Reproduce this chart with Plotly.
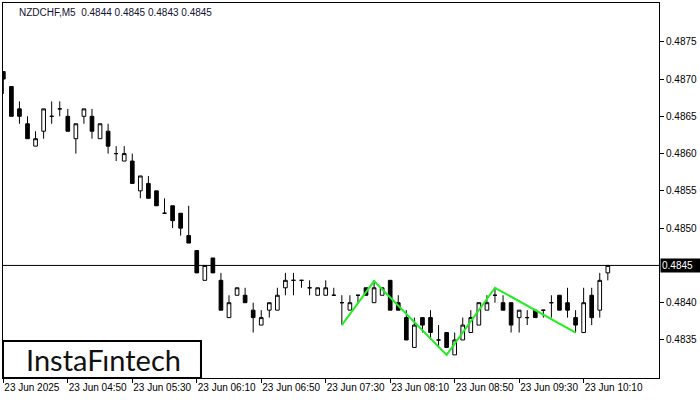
import plotly.graph_objects as go

# ---- data (bar index 0 = 23 Jun 2025 04:10, M5) ----
opens = [0.4871, 0.4869, 0.4866, 0.4864, 0.4861, 0.4863, 0.4865, 0.4866, 0.4865, 0.4862,
         0.4865, 0.4865, 0.4862, 0.4863, 0.4860, 0.4859, 0.4859, 0.4855, 0.4856, 0.4855,
         0.4852, 0.4853, 0.4852, 0.4849, 0.4847, 0.4843, 0.4846, 0.4843, 0.4838, 0.4841,
         0.4841, 0.4839, 0.4837, 0.4839, 0.4839, 0.4842, 0.4843, 0.4843, 0.4842, 0.4841,
         0.4841, 0.4841, 0.4840, 0.4839, 0.4841, 0.4842, 0.4840, 0.4841, 0.4843, 0.4840,
         0.4838, 0.4834, 0.4838, 0.4838, 0.4835, 0.4836, 0.4833, 0.4835, 0.4836, 0.4837,
         0.4839, 0.4841, 0.4840, 0.4840, 0.4838, 0.4838, 0.4839, 0.4839, 0.4840, 0.4841,
         0.4840, 0.4838, 0.4836, 0.4841, 0.4839, 0.4844]
highs = [0.4871, 0.4869, 0.4867, 0.4865, 0.4863, 0.4866, 0.4867, 0.4867, 0.4866, 0.4864,
         0.4866, 0.4866, 0.4864, 0.4864, 0.4861, 0.4861, 0.4860, 0.4857, 0.4857, 0.4855,
         0.4854, 0.4853, 0.4852, 0.4853, 0.4847, 0.4845, 0.4846, 0.4844, 0.4841, 0.4842,
         0.4842, 0.4840, 0.4839, 0.4840, 0.4842, 0.4844, 0.4844, 0.4843, 0.4843, 0.4842,
         0.4843, 0.4842, 0.4841, 0.4841, 0.4841, 0.4842, 0.4843, 0.4842, 0.4843, 0.4841,
         0.4839, 0.4838, 0.4838, 0.4839, 0.4837, 0.4836, 0.4836, 0.4838, 0.4839, 0.4840,
         0.4841, 0.4842, 0.4841, 0.4840, 0.4839, 0.4839, 0.4839, 0.4839, 0.4841, 0.4841,
         0.4842, 0.4839, 0.4842, 0.4842, 0.4844, 0.4845]
lows = [0.4868, 0.4865, 0.4864, 0.4862, 0.4861, 0.4862, 0.4864, 0.4865, 0.4863, 0.4860,
        0.4864, 0.4862, 0.4862, 0.4860, 0.4859, 0.4859, 0.4856, 0.4854, 0.4854, 0.4853,
        0.4852, 0.4850, 0.4849, 0.4848, 0.4844, 0.4843, 0.4844, 0.4839, 0.4838, 0.4841,
        0.4840, 0.4836, 0.4837, 0.4838, 0.4839, 0.4841, 0.4841, 0.4842, 0.4841, 0.4841,
        0.4841, 0.4841, 0.4837, 0.4839, 0.4840, 0.4841, 0.4840, 0.4841, 0.4839, 0.4839,
        0.4835, 0.4834, 0.4836, 0.4835, 0.4834, 0.4834, 0.4833, 0.4835, 0.4836, 0.4837,
        0.4839, 0.4840, 0.4839, 0.4836, 0.4836, 0.4837, 0.4838, 0.4838, 0.4838, 0.4839,
        0.4838, 0.4836, 0.4836, 0.4837, 0.4838, 0.4843]
closes = [0.4870, 0.4865, 0.4865, 0.4862, 0.4862, 0.4866, 0.4865, 0.4866, 0.4863, 0.4864,
          0.4866, 0.4863, 0.4864, 0.4861, 0.4860, 0.4860, 0.4856, 0.4857, 0.4854, 0.4853,
          0.4852, 0.4851, 0.4850, 0.4848, 0.4844, 0.4845, 0.4844, 0.4839, 0.4840, 0.4842,
          0.4840, 0.4838, 0.4838, 0.4840, 0.4841, 0.4843, 0.4843, 0.4843, 0.4842, 0.4842,
          0.4842, 0.4841, 0.4840, 0.4840, 0.4841, 0.4841, 0.4842, 0.4842, 0.4839, 0.4839,
          0.4835, 0.4837, 0.4837, 0.4836, 0.4835, 0.4834, 0.4835, 0.4837, 0.4838, 0.4840,
          0.4840, 0.4841, 0.4839, 0.4837, 0.4839, 0.4838, 0.4838, 0.4839, 0.4840, 0.4839,
          0.4839, 0.4837, 0.4840, 0.4838, 0.4843, 0.4845]

# pattern (inverse head & shoulders) points: bar index, price
pattern_bars = [42, 46, 55, 61, 71]
pattern_prices = [0.4837, 0.48429, 0.4833, 0.4842, 0.4836]

x_tick_bars = [0, 8, 16, 24, 32, 40, 48, 56, 64, 72]
x_tick_labels = ["23 Jun 2025", "23 Jun 04:50", "23 Jun 05:30", "23 Jun 06:10", "23 Jun 06:50",
                 "23 Jun 07:30", "23 Jun 08:10", "23 Jun 08:50", "23 Jun 09:30", "23 Jun 10:10"]
y_tick_vals = [0.4835, 0.4840, 0.4850, 0.4855, 0.4860, 0.4865, 0.4870, 0.4875]
y_tick_labels = ["0.4835", "0.4840", "0.4850", "0.4855", "0.4860", "0.4865", "0.4870", "0.4875"]
current_price = 0.4845
header = "NZDCHF,M5  0.4844 0.4845 0.4843 0.4845"

FONT = "Liberation Sans"
bars = list(range(len(opens)))

fig = go.Figure()
fig.add_trace(go.Candlestick(
    x=bars, open=opens, high=highs, low=lows, close=closes,
    increasing=dict(line=dict(color="black", width=1), fillcolor="white"),
    decreasing=dict(line=dict(color="black", width=1), fillcolor="black"),
    whiskerwidth=0, showlegend=False, hoverinfo="skip",
))
fig.add_trace(go.Scatter(
    x=pattern_bars, y=pattern_prices, mode="lines",
    line=dict(color="#22ee22", width=2), showlegend=False, hoverinfo="skip",
))

fig.add_shape(type="line", xref="paper", x0=0, x1=1, yref="y",
              y0=current_price, y1=current_price, line=dict(color="black", width=1))

# logo box
fig.add_shape(type="rect", xref="paper", yref="paper", x0=0, x1=0.3018, y0=0, y1=0.0987,
              line=dict(color="black", width=2), fillcolor="white", layer="above")
fig.add_annotation(xref="paper", yref="paper", x=0.153, y=0.049, text="InstaFıntech",
                   showarrow=False, xanchor="center", yanchor="middle",
                   font=dict(family="Lato", size=29, color="#111111"))

fig.add_annotation(xref="paper", yref="paper", x=0.0213, y=0.976, text=header,
                   showarrow=False, xanchor="left", yanchor="middle",
                   font=dict(family=FONT, size=10, color="#111133"))

fig.add_annotation(xref="paper", yref="y", x=1.0, y=current_price, text=f"{current_price:.4f}",
                   showarrow=False, xanchor="left", yanchor="middle", bgcolor="black",
                   borderpad=1, xshift=1, width=38, align="left",
                   font=dict(family=FONT, size=10, color="white"))

fig.update_layout(
    width=700, height=400,
    margin=dict(l=3, r=41, t=3, b=22, autoexpand=False),
    paper_bgcolor="white", plot_bgcolor="white",
    font=dict(family=FONT, size=10, color="black"),
    boxgap=0.35,
    xaxis=dict(range=[-0.04, 81.35], rangeslider=dict(visible=False),
               tickmode="array", tickvals=x_tick_bars, ticktext=x_tick_labels,
               ticks="outside", ticklen=4, tickcolor="black", tickangle=0,
               ticklabelposition="outside right", automargin=False,
               showgrid=False, zeroline=False, showline=True, linecolor="black",
               linewidth=1, mirror=True),
    yaxis=dict(range=[0.48299, 0.48802], side="right",
               tickmode="array", tickvals=y_tick_vals, ticktext=y_tick_labels,
               ticks="outside", ticklen=4, tickcolor="black", automargin=False,
               showgrid=False, zeroline=False, showline=True, linecolor="black",
               linewidth=1, mirror=True),
)

fig.write_html("out.html", config={"displayModeBar": False},
               post_script="document.body.style.margin='0px';document.body.style.overflow='hidden';")
